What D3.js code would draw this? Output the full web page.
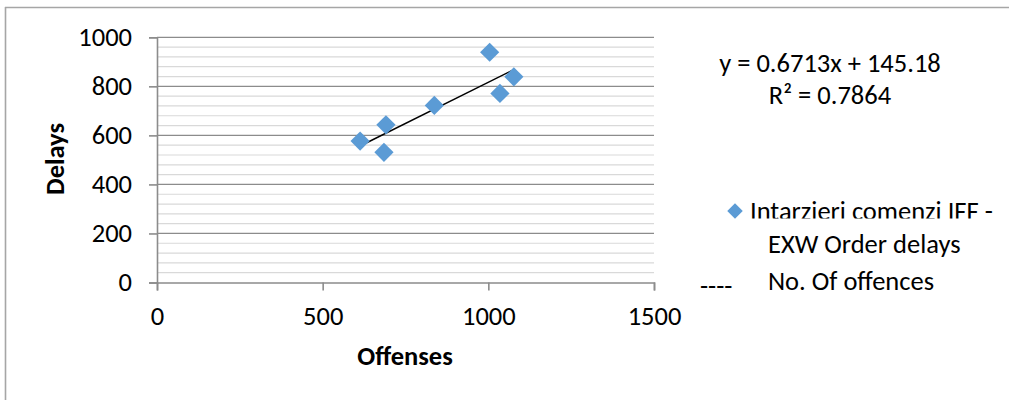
<!DOCTYPE html>
<html>
<head>
<meta charset="utf-8">
<script src="https://cdn.jsdelivr.net/npm/d3@7"></script>
<style>
  html, body { margin: 0; padding: 0; background: #fff; }
  svg { display: block; font-family: Carlito, "Open Sans", sans-serif; }
</style>
</head>
<body>
<svg id="chart" width="1009" height="400"></svg>
<script>
// ---- data ----
const offenses = [613, 691, 685, 837, 1004, 1035, 1077];
const delays   = [577, 643, 531, 722, 939, 771, 839];
const xTicks = [0, 500, 1000, 1500];
const yTicks = [0, 200, 400, 600, 800, 1000];
const yMinorTicks = d3.range(0, 1001, 40);
const trendCoef = [0.6713, 145.18];
const equationLabels = ["y = 0.6713x + 145.18", "R\u00B2 = 0.7864"];
const legendLines = ["Intarzieri comenzi IFF -", "EXW Order delays", "No. Of offences"];
const legendDash = "----";
const xTitle = "Offenses";
const yTitle = "Delays";

const FS = "26.5px";
const svg = d3.select("#chart");
const x = d3.scaleLinear().domain([0, 1500]).range([157, 654]);
const y = d3.scaleLinear().domain([0, 1000]).range([282.5, 37.3]);

// outer chart frame (top + left visible)
svg.append("line").attr("x1", 5).attr("x2", 1009).attr("y1", 7.5).attr("y2", 7.5)
  .attr("stroke", "#a6a6a6").attr("stroke-width", 1.6);
svg.append("line").attr("x1", 5.5).attr("x2", 5.5).attr("y1", 7).attr("y2", 400)
  .attr("stroke", "#a6a6a6").attr("stroke-width", 1.6);

// minor grid
svg.append("g").selectAll("line").data(yMinorTicks.filter(v => v % 200 !== 0)).join("line")
  .attr("x1", x(0)).attr("x2", x(1500))
  .attr("y1", d => y(d)).attr("y2", d => y(d))
  .attr("stroke", "#d9d9d9").attr("stroke-width", 1.2);
// major grid
svg.append("g").selectAll("line").data(yTicks.filter(v => v !== 0)).join("line")
  .attr("x1", x(0)).attr("x2", x(1500))
  .attr("y1", d => y(d)).attr("y2", d => y(d))
  .attr("stroke", "#8c8c8c").attr("stroke-width", 1.2);

// axes
const yAxis = svg.append("g").attr("transform", `translate(${x(0)},0)`)
  .call(d3.axisLeft(y).tickValues(yTicks).tickSize(8).tickPadding(17).tickFormat(d3.format("d")));
const xAxis = svg.append("g").attr("transform", `translate(0,${y(0)})`)
  .call(d3.axisBottom(x).tickValues(xTicks).tickSize(8).tickFormat(d3.format("d")));
xAxis.selectAll(".tick text").attr("dy", null).attr("y", 42.5);
[yAxis, xAxis].forEach(g => {
  g.select(".domain").attr("stroke", "#8c8c8c").attr("stroke-width", 1.6);
  g.selectAll(".tick line").attr("stroke", "#8c8c8c").attr("stroke-width", 1.6);
  g.selectAll(".tick text").attr("fill", "#000").style("font-size", FS)
    .style("font-family", 'Carlito, "Open Sans", sans-serif');
});

// axis titles
svg.append("text").attr("x", 405).attr("y", 365).attr("text-anchor", "middle")
  .style("font-size", FS).style("font-weight", "bold").text(xTitle);
svg.append("text").attr("transform", "translate(64,159) rotate(-90)").attr("text-anchor", "middle")
  .style("font-size", FS).style("font-weight", "bold").text(yTitle);

// trendline
const xExt = d3.extent(offenses);
svg.append("line")
  .attr("x1", x(xExt[0])).attr("y1", y(trendCoef[0] * xExt[0] + trendCoef[1]))
  .attr("x2", x(xExt[1])).attr("y2", y(trendCoef[0] * xExt[1] + trendCoef[1]))
  .attr("stroke", "#000").attr("stroke-width", 1.5);

// points
const diamond = d3.symbol().type(d3.symbolSquare).size(185);
svg.append("g").selectAll("path").data(offenses.map((o, i) => [o, delays[i]])).join("path")
  .attr("d", diamond)
  .attr("transform", d => `translate(${x(d[0])},${y(d[1])}) rotate(45)`)
  .attr("fill", "#5b9bd5");

// equation labels
svg.append("text").attr("x", 830).attr("y", 72).attr("text-anchor", "middle")
  .style("font-size", FS).text(equationLabels[0]);
svg.append("text").attr("x", 830).attr("y", 104).attr("text-anchor", "middle")
  .style("font-size", FS).text(equationLabels[1]);

// legend
const clip = svg.append("defs").append("clipPath").attr("id", "legclip");
clip.append("rect").attr("x", 690).attr("y", 190).attr("width", 319).attr("height", 28.5);
const leg = svg.append("g");
leg.append("path").attr("d", d3.symbol().type(d3.symbolSquare).size(120))
  .attr("transform", "translate(735,211) rotate(45)").attr("fill", "#5b9bd5");
leg.append("text").attr("x", 750).attr("y", 220).attr("clip-path", "url(#legclip)")
  .style("font-size", FS).text(legendLines[0]);
leg.append("text").attr("x", 768).attr("y", 253)
  .style("font-size", FS).text(legendLines[1]);
leg.append("text").attr("x", 768).attr("y", 290)
  .style("font-size", FS).text(legendLines[2]);
leg.append("text").attr("x", 700).attr("y", 295)
  .style("font-size", FS).text(legendDash);
</script>
</body>
</html>
